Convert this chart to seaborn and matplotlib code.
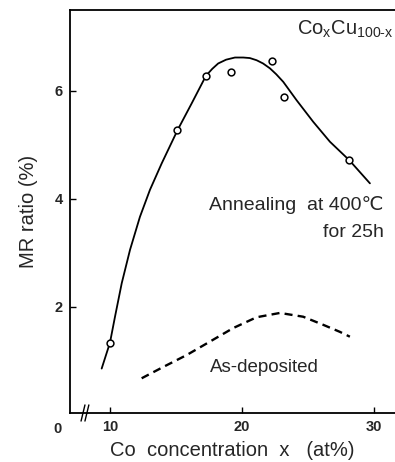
import numpy as np
import pandas as pd
import seaborn as sns
import matplotlib
matplotlib.use("Agg")
import matplotlib.pyplot as plt

sns.set_theme(style="white")
plt.rcParams["font.family"] = ["Liberation Sans", "DejaVu Sans"]
plt.rcParams["mathtext.default"] = "regular"

# Measured MR ratio after annealing at 400 C for 25 h
anneal_x = [10.0, 15.1, 17.27, 19.17, 22.25, 23.2, 28.13]
anneal_y = [1.34, 5.28, 6.28, 6.36, 6.56, 5.88, 4.72]

# Guide curve through the annealed data
anneal_fit_x = [9.37, 10.0, 10.38, 10.89, 11.52, 12.27, 13.03, 13.92, 15.13, 16.19,
                17.27, 17.75, 18.20, 18.80, 19.47, 20.10, 20.60, 21.11, 21.60, 22.12,
                22.60, 23.13, 24.14, 25.40, 26.67, 28.13, 29.70]
anneal_fit_y = [0.86, 1.34, 1.82, 2.44, 3.06, 3.67, 4.17, 4.66, 5.28, 5.77,
                6.28, 6.41, 6.51, 6.58, 6.62, 6.62, 6.61, 6.57, 6.51, 6.42,
                6.31, 6.17, 5.83, 5.43, 5.06, 4.72, 4.29]

# As-deposited films
asdep_x = [12.40, 14.04, 15.81, 17.58, 19.34, 21.11, 22.88, 24.64, 26.16, 27.42, 28.18]
asdep_y = [0.68, 0.89, 1.11, 1.36, 1.61, 1.81, 1.89, 1.82, 1.67, 1.54, 1.45]

y_ticks = [2, 4, 6]
x_ticks = [10, 20, 30]

fit_df = pd.DataFrame({"x": anneal_fit_x, "y": anneal_fit_y})
pts_df = pd.DataFrame({"x": anneal_x, "y": anneal_y})
dep_df = pd.DataFrame({"x": asdep_x, "y": asdep_y})

fig = plt.figure(figsize=(3.95, 4.62), dpi=100)
ax = fig.add_axes([70 / 395, 49 / 462, 1 - 70 / 395, 403 / 462])

sns.lineplot(data=fit_df, x="x", y="y", ax=ax, color="black", lw=1.3, sort=False)
sns.lineplot(data=dep_df, x="x", y="y", ax=ax, color="black", lw=1.7, sort=False,
             linestyle=(0, (3.4, 2.2)))
sns.scatterplot(data=pts_df, x="x", y="y", ax=ax, marker="o", s=24,
                facecolor="white", edgecolor="black", linewidth=1.1, zorder=5)

ax.set_xlim(6.97, 31.6)
ax.set_ylim(0.037, 7.5)

ax.spines["right"].set_visible(False)
for s in ["left", "bottom", "top"]:
    ax.spines[s].set_color("black")
    ax.spines[s].set_linewidth(1.3)

ax.set_xticks(x_ticks)
ax.set_xticklabels([str(t) for t in x_ticks], fontsize=10.5, fontweight="bold")
ax.set_yticks(y_ticks)
ax.set_yticklabels([str(t) for t in y_ticks], fontsize=10.5, fontweight="bold")
ax.tick_params(axis="both", direction="in", length=4, width=1.0, color="black",
               bottom=True, left=True, top=False, right=False)
ax.tick_params(axis="x", pad=5)
ax.tick_params(axis="y", pad=5)

ax.set_xlabel("Co  concentration  x   (at%)", fontsize=14.5, labelpad=5)
ax.set_ylabel("MR ratio (%)", fontsize=14.5, labelpad=12)

# Origin label and axis break
ax.text(-0.037, -0.022, "0", transform=ax.transAxes, fontsize=10.5, fontweight="bold",
        ha="center", va="top")
for dx in (-0.006, 0.006):
    ax.plot([0.046 + dx - 0.006, 0.046 + dx + 0.006], [-0.02, 0.02],
            transform=ax.transAxes, color="black", lw=1.0, clip_on=False)

ax.text(0.996, 0.952, "Co$_x$Cu$_{100\u2010x}$", transform=ax.transAxes,
        fontsize=14.5, ha="right", va="center")
ax.text(0.965, 0.516, "Annealing  at 400\u2103", transform=ax.transAxes,
        fontsize=14, ha="right", va="center")
ax.text(0.965, 0.449, "for 25h", transform=ax.transAxes,
        fontsize=14, ha="right", va="center")
ax.text(0.43, 0.114, "As-deposited", transform=ax.transAxes,
        fontsize=13.5, ha="left", va="center")

fig.savefig("out.png", dpi=100, facecolor="white")
